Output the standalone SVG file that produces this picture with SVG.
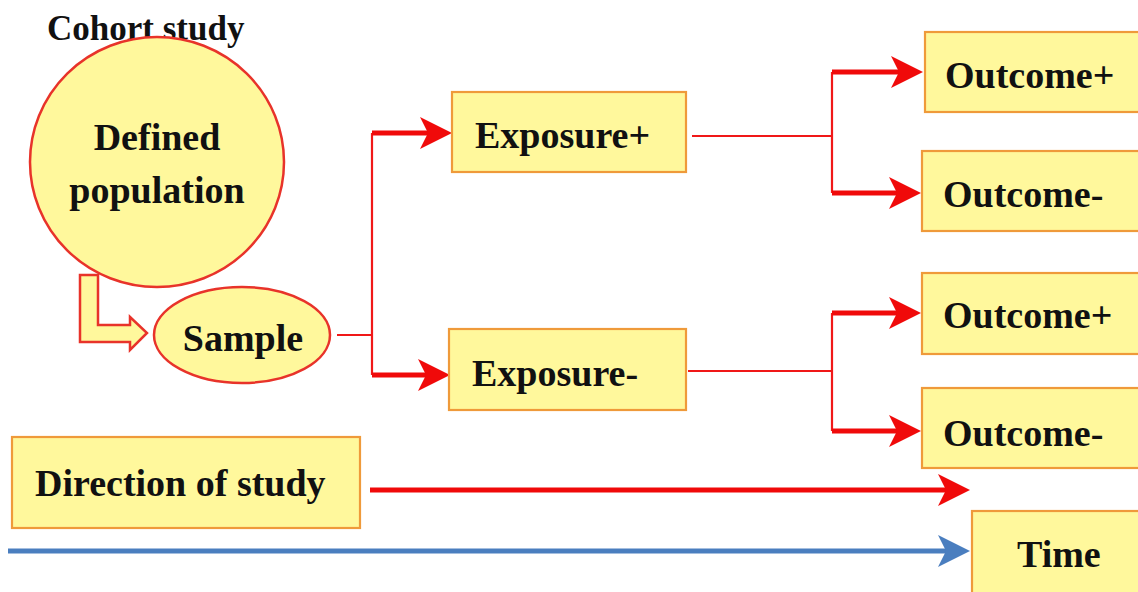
<svg xmlns="http://www.w3.org/2000/svg" width="1138" height="592" viewBox="0 0 1138 592">
<style>
.box{fill:#fff89c;stroke:#ef9a3a;stroke-width:2.2}
.oval{fill:#fff89c;stroke:#e8332a;stroke-width:2.5}
.t{font-family:"Liberation Serif","Times New Roman",serif;font-weight:bold;font-size:38px;fill:#111}
.thin{fill:none;stroke:#f01818;stroke-width:2.2}
.thick{fill:none;stroke:#f00a0a;stroke-width:5}
.blue{fill:none;stroke:#4a7ebf;stroke-width:5}
</style>
<defs>
<marker id="ar" markerUnits="userSpaceOnUse" markerWidth="34" markerHeight="34" refX="20" refY="16" orient="auto" viewBox="0 0 34 32">
<path d="M0,0 L32,16 L0,32 L8,16 Z" fill="#f00a0a"/>
</marker>
<marker id="ab" markerUnits="userSpaceOnUse" markerWidth="34" markerHeight="34" refX="20" refY="16" orient="auto" viewBox="0 0 34 32">
<path d="M0,0 L32,16 L0,32 L8,16 Z" fill="#4a7ebf"/>
</marker>
</defs>
<text class="t" x="47" y="40" style="font-size:35px">Cohort study</text>
<g id="connectors">
<polygon points="80,275 98,275 98,325 130,325 130,317 147,333 130,350 130,342 80,342" fill="#fff89c" stroke="#e8332a" stroke-width="2.5"/>
<path class="thin" d="M337,335 H372 M372,133 V375"/>
<path class="thick" d="M372,133 H440" marker-end="url(#ar)"/>
<path class="thick" d="M372,375 H438" marker-end="url(#ar)"/>
<path class="thin" d="M692,136 H832 M832,72 V193"/>
<path class="thick" d="M832,72 H911" marker-end="url(#ar)"/>
<path class="thick" d="M832,193 H909" marker-end="url(#ar)"/>
<path class="thin" d="M688,371 H832 M832,313 V431"/>
<path class="thick" d="M832,313 H909" marker-end="url(#ar)"/>
<path class="thick" d="M832,431 H909" marker-end="url(#ar)"/>
<path class="thick" d="M370,490 H958" marker-end="url(#ar)"/>
<path class="blue" d="M8,551 H958" marker-end="url(#ab)"/>
</g>
<g id="population">
<ellipse class="oval" cx="157" cy="162" rx="127" ry="125"/>
<text class="t" x="157" y="150" text-anchor="middle">Defined</text>
<text class="t" x="157" y="203" text-anchor="middle">population</text>
</g>
<g id="sample">
<ellipse class="oval" cx="242" cy="335" rx="88" ry="48"/>
<text class="t" x="243" y="351" text-anchor="middle">Sample</text>
</g>
<g id="exposure-plus">
<rect class="box" x="452" y="92" width="234" height="80"/>
<text class="t" x="475" y="148">Exposure+</text>
</g>
<g id="exposure-minus">
<rect class="box" x="449" y="329" width="237" height="81"/>
<text class="t" x="472" y="386">Exposure-</text>
</g>
<g id="outcome1-plus">
<rect class="box" x="925" y="32" width="220" height="80"/>
<text class="t" x="945" y="88">Outcome+</text>
</g>
<g id="outcome1-minus">
<rect class="box" x="922" y="151" width="223" height="80"/>
<text class="t" x="943" y="207">Outcome-</text>
</g>
<g id="outcome2-plus">
<rect class="box" x="922" y="273" width="223" height="81"/>
<text class="t" x="943" y="328">Outcome+</text>
</g>
<g id="outcome2-minus">
<rect class="box" x="922" y="388" width="223" height="80"/>
<text class="t" x="943" y="446">Outcome-</text>
</g>
<g id="direction">
<rect class="box" x="12" y="437" width="348" height="91"/>
<text class="t" x="35" y="496">Direction of study</text>
</g>
<g id="time">
<rect class="box" x="972" y="511" width="180" height="90"/>
<text class="t" x="1017" y="567">Time</text>
</g>
</svg>
